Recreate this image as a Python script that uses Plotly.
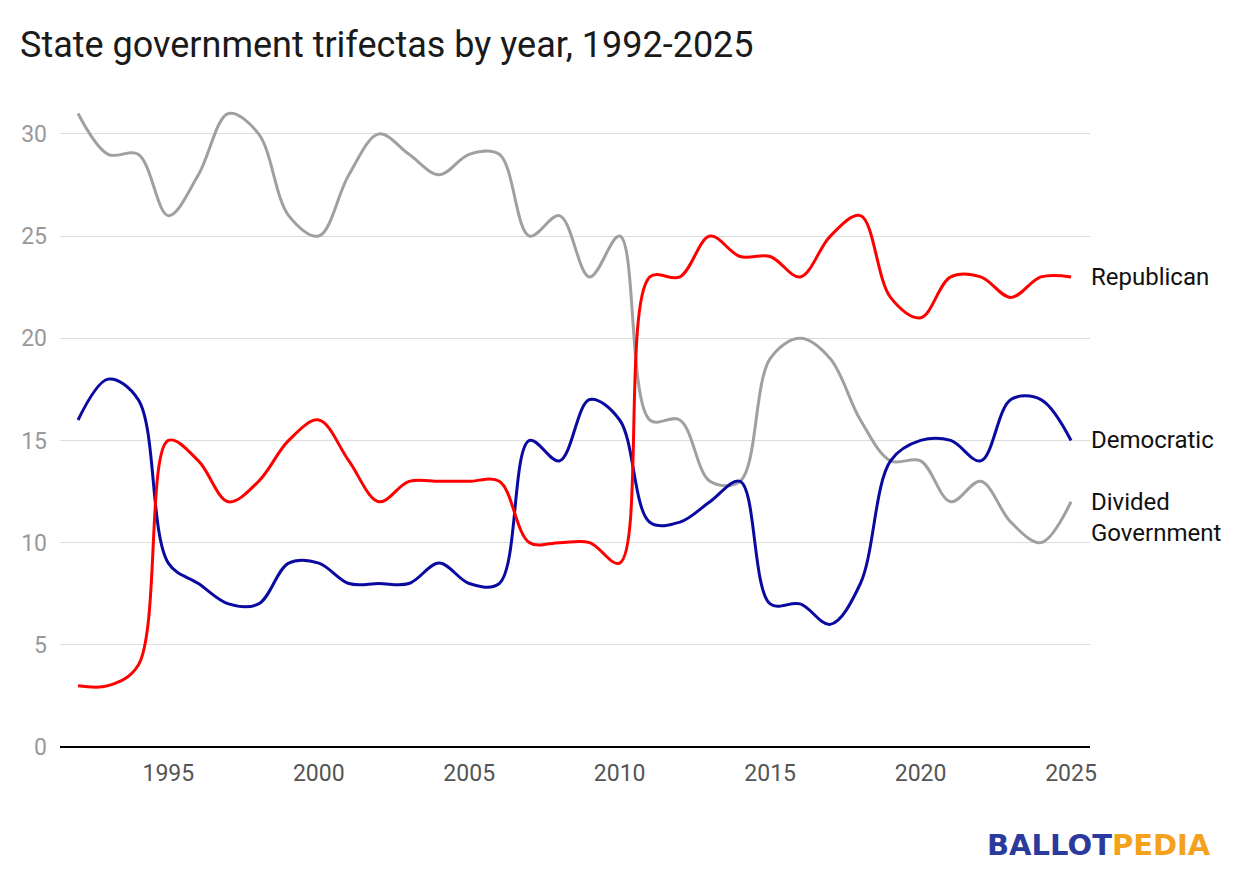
import plotly.graph_objects as go

years = list(range(1992, 2026))
republican = [3, 3, 4, 15, 14, 12, 13, 15, 16, 14, 12, 13, 13, 13, 13, 10, 10, 10, 9,
              23, 23, 25, 24, 24, 23, 25, 26, 22, 21, 23, 23, 22, 23, 23]
democratic = [16, 18, 17, 9, 8, 7, 7, 9, 9, 8, 8, 8, 9, 8, 8, 15, 14, 17, 16,
              11, 11, 12, 13, 7, 7, 6, 8, 14, 15, 15, 14, 17, 17, 15]
divided = [31, 29, 29, 26, 28, 31, 30, 26, 25, 28, 30, 29, 28, 29, 29, 25, 26, 23, 25,
           16, 16, 13, 13, 19, 20, 19, 16, 14, 14, 12, 13, 11, 10, 12]

x_ticks = [1995, 2000, 2005, 2010, 2015, 2020, 2025]
y_ticks = [0, 5, 10, 15, 20, 25, 30]

FONT = "Roboto"

fig = go.Figure()
series = [
    ("Divided Government", divided, "#a0a0a0"),
    ("Democratic", democratic, "#0a0aa0"),
    ("Republican", republican, "#ff0000"),
]
for name, vals, col in series:
    fig.add_trace(go.Scatter(
        x=years, y=vals, name=name, mode="lines",
        line=dict(color=col, width=3, shape="spline", smoothing=1),
        hoverinfo="x+y+name", showlegend=False,
    ))

label_font = dict(family=FONT, size=24, color="#111111")
fig.add_annotation(x=years[-1], y=republican[-1], text="Republican", showarrow=False,
                   xanchor="left", yanchor="middle", xshift=18, font=label_font)
fig.add_annotation(x=years[-1], y=democratic[-1], text="Democratic", showarrow=False,
                   xanchor="left", yanchor="middle", xshift=18, font=label_font)
fig.add_annotation(x=years[-1], y=divided[-1], text="Divided<br>Government", showarrow=False,
                   xanchor="left", yanchor="top", align="left", xshift=18, yshift=16,
                   font=label_font)

# logo
fig.add_annotation(xref="paper", yref="paper", x=1.1194, y=-0.1498, xanchor="right",
                   yanchor="middle", showarrow=False,
                   text="<span style='color:#2b3b9d'>BALLOT</span><span style='color:#f4a11c'>PEDIA</span>",
                   font=dict(family="DejaVu Sans", size=29, weight=600))

fig.update_layout(
    width=1240, height=884,
    paper_bgcolor="white", plot_bgcolor="white",
    margin=dict(l=52, r=158, t=85, b=145),
    title=dict(text="State government trifectas by year, 1992-2025",
               x=12 / 1240, xref="container", xanchor="left", y=1 - 36 / 884, yref="container",
               yanchor="middle",
               font=dict(family=FONT, size=36, color="#1a1a1a")),
    xaxis=dict(range=[1991.4, 2025.63], tickvals=x_ticks, showgrid=False, zeroline=False,
               showline=False, ticks="", ticklabelstandoff=10,
               tickfont=dict(family=FONT, size=23, color="#555555")),
    yaxis=dict(range=[0, 32], tickvals=y_ticks, showgrid=True, gridcolor="#dddddd", gridwidth=1,
               zeroline=True, zerolinecolor="#000000", zerolinewidth=2, showline=False,
               ticks="", ticklabelstandoff=12,
               tickfont=dict(family=FONT, size=23, color="#999999")),
    font=dict(family=FONT),
)

fig.write_html("out.html")
